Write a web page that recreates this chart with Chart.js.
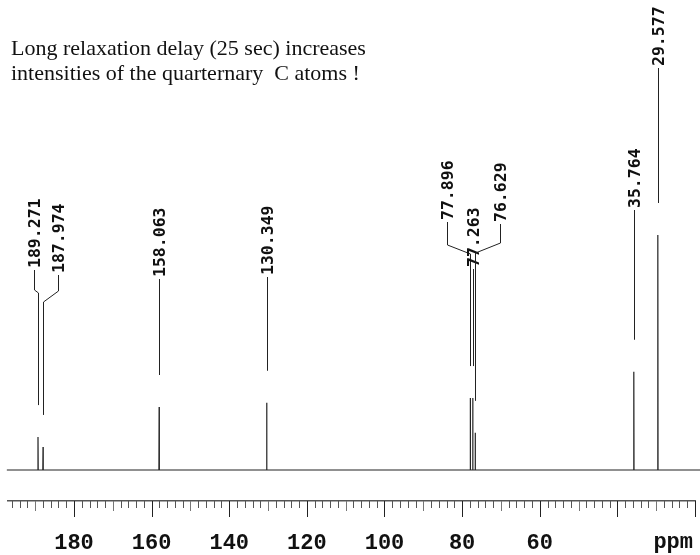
<!DOCTYPE html>
<html>
<head>
<meta charset="utf-8">
<script src="https://cdn.jsdelivr.net/npm/chart.js@4"></script>
<style>
  html, body { margin: 0; padding: 0; background: #fff; }
  #wrap { width: 700px; height: 555px; position: relative; }
</style>
</head>
<body>
<div id="wrap"><canvas id="nmr"></canvas></div>
<script>
// 13C spectrum: peak positions (ppm) and heights (arbitrary units)
const peakPpm = [189.271, 187.974, 158.063, 130.349, 77.896, 77.263, 76.629, 35.764, 29.577];
const peakHeight = [7.0, 4.9, 13.4, 14.3, 15.3, 15.3, 7.9, 20.9, 50.0];
const peakLabels = ['189.271', '187.974', '158.063', '130.349', '77.896', '77.263', '76.629', '35.764', '29.577'];
const tickLabels = [180, 160, 140, 120, 100, 80, 60];
const unitLabel = 'ppm';
const noteLines = [
    'Long relaxation delay (25 sec) increases',
    'intensities of the quarternary  C atoms !'
];

// leader line layout (label x in ppm, y in px)
const leaders = [
    { lx: 190.3, bottom: 268, elbow: [290, 293] },
    { lx: 184.0, bottom: 273, elbow: [291, 302] },
    { bottom: 277 },
    { bottom: 275 },
    { lx: 84.0, bottom: 220, elbow: [245, 254] },
    { bottom: 267 },
    { lx: 70.2, bottom: 222, elbow: [243, 253] },
    { bottom: 208 },
    { bottom: 66 }
];
const GAP = 32;

// build the spectrum trace from the peak list
const spectrum = [{ x: 197.3, y: 0 }];
peakPpm.forEach((p, i) => {
    spectrum.push({ x: p + 0.05, y: 0 });
    spectrum.push({ x: p, y: peakHeight[i] });
    spectrum.push({ x: p - 0.05, y: 0 });
});
spectrum.push({ x: 18.3, y: 0 });

const nmrDecor = {
    id: 'nmrDecor',
    afterDraw(chart) {
        const ctx = chart.ctx;
        const xs = chart.scales.x;
        const ys = chart.scales.y;
        const top = xs.top;

        ctx.save();
        // axis ticks: every 2 ppm, longer at 10 and 20
        for (let v = 196; v >= 20; v -= 2) {
            const x = Math.round(xs.getPixelForValue(v)) + 0.5;
            let len = 7, col = '#555';
            if (v % 20 === 0) { len = 16; col = '#222'; }
            else if (v % 10 === 0) { len = 10; col = '#777'; }
            ctx.strokeStyle = col;
            ctx.lineWidth = 1;
            ctx.beginPath();
            ctx.moveTo(x, top);
            ctx.lineTo(x, top + len);
            ctx.stroke();
        }

        // unit label
        ctx.fillStyle = '#111';
        ctx.font = 'bold 22px "Liberation Mono", monospace';
        ctx.textAlign = 'right';
        ctx.textBaseline = 'alphabetic';
        ctx.fillText(unitLabel, xs.right - 2, 548);

        // note text
        ctx.font = '22px "Liberation Serif", serif';
        ctx.textAlign = 'left';
        ctx.fillText(noteLines[0], 11, 55);
        ctx.fillText(noteLines[1], 11, 80);

        // peak leaders and labels
        ctx.strokeStyle = '#222';
        ctx.lineWidth = 1;
        ctx.font = 'bold 16.5px "DejaVu Sans Mono", monospace';
        peakPpm.forEach((p, i) => {
            const L = leaders[i];
            const px = Math.round(xs.getPixelForValue(p)) + 0.5;
            const lx = L.lx !== undefined ? Math.round(xs.getPixelForValue(L.lx)) + 0.5 : px;
            const end = ys.getPixelForValue(peakHeight[i]) - GAP;

            ctx.beginPath();
            ctx.moveTo(lx, L.bottom + 2);
            if (L.elbow) {
                ctx.lineTo(lx, L.elbow[0]);
                ctx.lineTo(px, L.elbow[1]);
            }
            ctx.lineTo(px, end);
            ctx.stroke();

            ctx.save();
            ctx.translate(lx, L.bottom);
            ctx.rotate(-Math.PI / 2);
            ctx.textAlign = 'left';
            ctx.textBaseline = 'middle';
            ctx.fillText(peakLabels[i], 0, 1);
            ctx.restore();
        });
        ctx.restore();
    }
};

new Chart(document.getElementById('nmr'), {
    type: 'line',
    data: {
        datasets: [{
            data: spectrum,
            borderColor: '#222',
            borderWidth: 1.2,
            pointRadius: 0,
            tension: 0,
            fill: false,
            clip: false
        }]
    },
    options: {
        responsive: true,
        maintainAspectRatio: false,
        animation: false,
        layout: { padding: { left: 8, right: 5, top: 0, bottom: 0 } },
        plugins: {
            legend: { display: false },
            tooltip: { enabled: false }
        },
        scales: {
            x: {
                type: 'linear',
                reverse: true,
                min: 20,
                max: 197,
                afterFit: function(scale) {
                    scale.height = 54;
                    scale.paddingLeft = 0;
                    scale.paddingRight = 0;
                },
                grid: { display: false, drawTicks: false },
                border: { display: true, color: '#555', width: 1.5 },
                ticks: {
                    stepSize: 20,
                    autoSkip: false,
                    maxRotation: 0,
                    padding: 29,
                    color: '#111',
                    font: { family: '"Liberation Mono", monospace', size: 22, weight: 'bold' },
                    callback: function(v) {
                        return tickLabels.includes(v) ? String(v) : '';
                    }
                }
            },
            y: {
                display: false,
                min: -6.6,
                max: 100
            }
        }
    },
    plugins: [nmrDecor]
});
</script>
</body>
</html>
